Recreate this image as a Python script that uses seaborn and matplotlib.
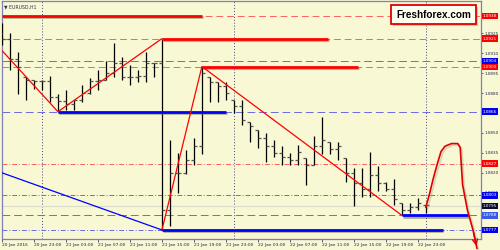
import matplotlib
matplotlib.use("Agg")
import matplotlib.pyplot as plt
import matplotlib.patheffects as pe
from matplotlib.patches import FancyBboxPatch
import pandas as pd
import seaborn as sns

# ---------------- data (EURUSD H1) ----------------
bar_open = [1.0925, 1.0921, 1.0906, 1.0892, 1.0890, 1.0889, 1.0889, 1.0877, 1.0874, 1.0872,
            1.0875, 1.0880, 1.0889, 1.0890, 1.0895, 1.0903, 1.0892, 1.0892, 1.0893, 1.0903,
            1.0903, 1.0792, 1.0820, 1.0820, 1.0830, 1.0840, 1.0892, 1.0888, 1.0885, 1.0875,
            1.0870, 1.0858, 1.0852, 1.0846, 1.0840, 1.0835, 1.0832, 1.0830, 1.0831, 1.0826,
            1.0840, 1.0843, 1.0838, 1.0831, 1.0820, 1.0812, 1.0808, 1.0818, 1.0812, 1.0808,
            1.0797, 1.0792, 1.0794, 1.0796]
bar_high = [1.0933, 1.0925, 1.0911, 1.0892, 1.0890, 1.0890, 1.0893, 1.0879, 1.0882, 1.0875,
            1.0886, 1.0891, 1.0897, 1.0904, 1.0918, 1.0907, 1.0901, 1.0897, 1.0911, 1.0903,
            1.0921, 1.0845, 1.0835, 1.0837, 1.0846, 1.0900, 1.0892, 1.0888, 1.0888, 1.0875,
            1.0875, 1.0858, 1.0852, 1.0850, 1.0845, 1.0840, 1.0835, 1.0841, 1.0831, 1.0848,
            1.0862, 1.0843, 1.0843, 1.0831, 1.0824, 1.0824, 1.0836, 1.0825, 1.0813, 1.0815,
            1.0797, 1.0797, 1.0801, 1.0796]
bar_low = [1.0916, 1.0897, 1.0879, 1.0875, 1.0883, 1.0882, 1.0873, 1.0866, 1.0867, 1.0867,
           1.0873, 1.0879, 1.0882, 1.0890, 1.0892, 1.0890, 1.0886, 1.0888, 1.0888, 1.0892,
           1.0777, 1.0780, 1.0805, 1.0819, 1.0826, 1.0834, 1.0873, 1.0873, 1.0875, 1.0865,
           1.0856, 1.0843, 1.0839, 1.0828, 1.0832, 1.0826, 1.0826, 1.0826, 1.0811, 1.0826,
           1.0834, 1.0834, 1.0830, 1.0813, 1.0795, 1.0802, 1.0802, 1.0806, 1.0806, 1.0796,
           1.0788, 1.0790, 1.0792, 1.0790]
bar_close = [1.0921, 1.0906, 1.0900, 1.0890, 1.0889, 1.0889, 1.0877, 1.0874, 1.0872, 1.0875,
             1.0880, 1.0889, 1.0890, 1.0895, 1.0903, 1.0892, 1.0892, 1.0893, 1.0903, 1.0903,
             1.0792, 1.0820, 1.0820, 1.0830, 1.0840, 1.0895, 1.0888, 1.0885, 1.0880, 1.0870,
             1.0860, 1.0855, 1.0846, 1.0840, 1.0835, 1.0832, 1.0830, 1.0836, 1.0826, 1.0840,
             1.0845, 1.0838, 1.0840, 1.0820, 1.0812, 1.0808, 1.0818, 1.0812, 1.0808, 1.0800,
             1.0792, 1.0794, 1.0797, 1.0796]

time_label_bars = [0, 4, 8, 12, 16, 20, 24, 28, 32, 36, 40, 44, 48, 52]
time_labels = ["20 Jan 2016", "20 Jan 23:00", "21 Jan 03:00", "21 Jan 07:00", "21 Jan 11:00",
               "21 Jan 15:00", "21 Jan 19:00", "21 Jan 23:00", "22 Jan 03:00", "22 Jan 07:00",
               "22 Jan 11:00", "22 Jan 15:00", "22 Jan 19:00", "22 Jan 23:00"]
day_start_bars = [5, 29, 53]
price_ticks = [1.0925, 1.0910, 1.0895, 1.0880, 1.0850, 1.0835, 1.0820, 1.0805]

# horizontal levels
red_dash_levels = [1.0938, 1.0921, 1.0900]
red_dashdot_levels = [1.0827]
blue_dash_levels = [1.0904, 1.0866, 1.0788]
blue_dashdot_levels = [1.0803, 1.0777]
bid_price = 1.0795

# thick level segments: (start bar, end bar, price)
red_seg_start = [0, 20, 25]
red_seg_end = [25, 40.8, 44.5]
red_seg_price = [1.0938, 1.0921, 1.0900]
blue_seg_start = [7, 20, 50]
blue_seg_end = [28, 55.1, 58.3]
blue_seg_price = [1.0866, 1.0777, 1.0788]

# trend lines
trend1_x = [0, 7, 20]
trend1_y = [1.0912, 1.0866, 1.0921]
trend2_x = [20, 25, 50]
trend2_y = [1.0777, 1.0900, 1.0788]
blue_trend_x = [0, 20]
blue_trend_y = [1.0820, 1.0777]

# forecast sketch
forecast_x = [53.0, 53.5, 53.9, 54.4, 54.9, 55.4, 56.2, 57.0, 57.3, 57.6, 58.2, 58.9, 59.4]
forecast_y = [1.0794, 1.0805, 1.0815, 1.0826, 1.0836, 1.0840, 1.0842, 1.0842, 1.0839, 1.0811,
              1.0792, 1.0777, 1.0763]

# ---------------- style ----------------
bg = "#F8F8D4"
sns.set_style("white", rc={"axes.facecolor": bg, "figure.facecolor": bg})
plt.rcParams["font.family"] = ["DejaVu Sans"]

fig = plt.figure(figsize=(5, 2.5), dpi=100)
W, H = 500, 250
ax = fig.add_axes([1.5 / W, (H - 239) / H, (481 - 1.5) / W, 238 / H])
ax.set_facecolor(bg)
ax.set_xlim(-0.06, 59.9)
ax.set_ylim(1.07702, 1.09493)

n = len(bar_close)
idx = list(range(n))

# grid/separators
for d in day_start_bars:
    ax.axvline(d, color="#44447A", lw=0.7, ls=(0, (1, 2)), zorder=1)

# level lines
for p in red_dash_levels:
    ax.axhline(p, color="#FF6060", lw=0.7, ls=(0, (7, 4)), zorder=1)
for p in red_dashdot_levels:
    ax.axhline(p, color="#FF6060", lw=0.7, ls=(0, (5, 2, 1, 2)), zorder=1)
for p in blue_dash_levels:
    ax.axhline(p, color="#6A6AE0", lw=0.7, ls=(0, (8, 4)), zorder=1)
for p in blue_dashdot_levels:
    ax.axhline(p, color="#6A6AE0", lw=0.7, ls=(0, (5, 2, 1, 2)), zorder=1)
ax.axhline(bid_price, color="#DCDCCC", lw=0.8, zorder=1)

shadow = [pe.SimpleLineShadow(offset=(0.6, -0.9), shadow_color="#777755", alpha=0.55), pe.Normal()]

# OHLC bars
ax.vlines(idx, bar_low, bar_high, color="black", lw=0.9, zorder=3)
ax.hlines(bar_open, [i - 0.38 for i in idx], idx, color="#555555", lw=0.9, zorder=3)
ax.hlines(bar_close, idx, [i + 0.38 for i in idx], color="#555555", lw=0.9, zorder=3)

# thick segments
for s, e, p in zip(red_seg_start, red_seg_end, red_seg_price):
    ax.plot([s, e], [p, p], color="#FF0000", lw=2.0, solid_capstyle="butt", zorder=4,
            path_effects=shadow)
for s, e, p in zip(blue_seg_start, blue_seg_end, blue_seg_price):
    ax.plot([s, e], [p, p], color="#0000FF", lw=2.0, solid_capstyle="butt", zorder=4,
            path_effects=shadow)

# trend lines via seaborn
df1 = pd.DataFrame({"bar": trend1_x, "price": trend1_y})
df2 = pd.DataFrame({"bar": trend2_x, "price": trend2_y})
df3 = pd.DataFrame({"bar": blue_trend_x, "price": blue_trend_y})
sns.lineplot(data=df1, x="bar", y="price", color="#FF0000", lw=0.9, sort=False, estimator=None, ax=ax, zorder=5)
sns.lineplot(data=df2, x="bar", y="price", color="#FF0000", lw=0.9, sort=False, estimator=None, ax=ax, zorder=5)
sns.lineplot(data=df3, x="bar", y="price", color="#0000FF", lw=0.9, sort=False, estimator=None, ax=ax, zorder=5)

# forecast curve
dff = pd.DataFrame({"bar": forecast_x, "price": forecast_y})
sns.lineplot(data=dff, x="bar", y="price", color="#E00000", lw=1.2, sort=False, estimator=None, ax=ax,
             zorder=6)
ax.lines[-1].set_clip_on(False)
ax.lines[-1].set_path_effects([pe.SimpleLineShadow(offset=(1.2, -1.2), shadow_color="#99997A", alpha=0.35),
                               pe.Normal()])
ax.annotate("", xy=(forecast_x[-1], forecast_y[-1]), xytext=(forecast_x[-2], forecast_y[-2]),
            arrowprops=dict(arrowstyle="->", color="#E00000", lw=1.0, mutation_scale=9),
            annotation_clip=False, zorder=6)

ax.set_xlabel("")
ax.set_ylabel("")

# axes styling
for sp in ax.spines.values():
    sp.set_color("#8080B8")
    sp.set_linewidth(0.9)
ax.yaxis.tick_right()
ax.set_yticks(price_ticks)
ax.set_yticklabels([f"{p:.4f}" for p in price_ticks])
ax.tick_params(axis="y", which="both", right=True, length=1.5, width=0.6, color="#404070",
               labelsize=3.0, labelcolor="#202050", pad=0.8)
ax.set_xticks(time_label_bars)
ax.set_xticklabels(time_labels)
ax.tick_params(axis="x", which="both", bottom=True, length=2, width=0.6, color="#404070",
               labelsize=3.2, labelcolor="#202050", pad=0.8)
for t in ax.get_xticklabels():
    t.set_ha("left")

# price labels on the right
trans = ax.get_yaxis_transform()
label_groups = [
    (red_dash_levels + red_dashdot_levels, "#FF0000"),
    ([1.0904, 1.0866, 1.0803, 1.0777], "#0000EE"),
    ([1.0788], "#3A5AE6"),
    ([bid_price], "#0A0A30"),
]
for prices, c in label_groups:
    for p in prices:
        ax.text(1.004, p, f"{p:.4f}", transform=trans, fontsize=3.0, color="white",
                va="center", ha="left", clip_on=False, zorder=10,
                bbox=dict(boxstyle="square,pad=0.3", fc=c, ec="none"))

# title
ax.text(0.006, 0.985, "\u25BC EURUSD,H1", transform=ax.transAxes, fontsize=3.3,
        color="#303060", va="top", ha="left", zorder=10)

# watermark box
fig.patches.append(FancyBboxPatch((393 / W, 1 - 26 / H), 85 / W, 19 / H, boxstyle="square,pad=0",
                                  transform=fig.transFigure, fc="#A0A088", ec="none", alpha=0.5,
                                  zorder=9))
fig.patches.append(FancyBboxPatch((391 / W, 1 - 24 / H), 85 / W, 19 / H, boxstyle="square,pad=0",
                                  transform=fig.transFigure, fc="#FFFFF2", ec="#E00000", lw=1.3,
                                  zorder=10))
fig.text(433.5 / W, 1 - 14.5 / H, "Freshforex.com", fontsize=7.2, fontweight="bold",
         family="Liberation Sans", color="black", ha="center", va="center", zorder=11)

fig.savefig("out.png", dpi=100, facecolor=bg)
